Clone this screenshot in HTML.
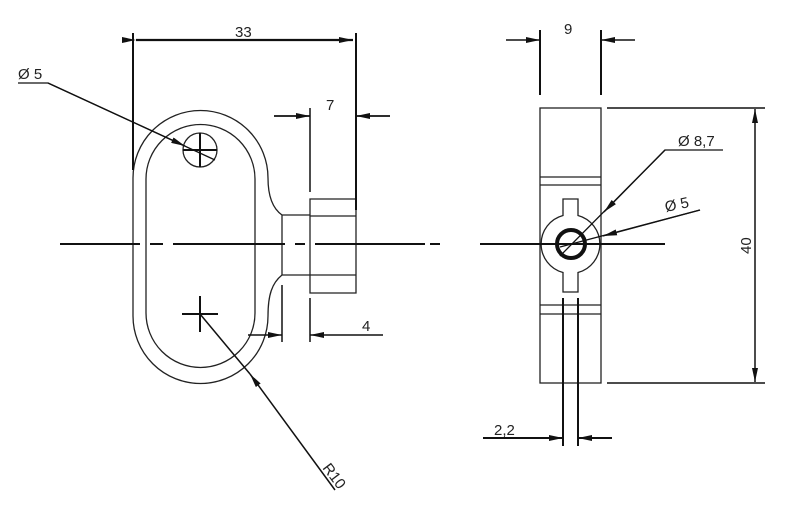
<!DOCTYPE html>
<html><head><style>html,body{margin:0;padding:0;background:#fff}svg{display:block}</style></head><body>
<svg width="792" height="512" viewBox="0 0 792 512" xmlns="http://www.w3.org/2000/svg" font-family="Liberation Sans, sans-serif">
<defs>
<marker id="a" viewBox="0 0 14 6" refX="14" refY="3" markerWidth="14" markerHeight="6" markerUnits="userSpaceOnUse" orient="auto"><path d="M0,0 L14,3 L0,6z" fill="#111"/></marker>
</defs>
<g fill="none" stroke="#222" stroke-width="1.3">
<!-- left view -->
<path d="M282,215 C272,208 268,195 268,178 A67.5,67.5 0 0 0 133,178 L133,316 A67.5,67.5 0 0 0 268,316 C268,295 272,283 282,275"/>
<path d="M146,179 A54.5,54.5 0 0 1 255,179 L255,313 A54.5,54.5 0 0 1 146,313 Z"/>
<circle cx="200" cy="150" r="17"/>
<path d="M282,215 L282,275 M282,215 L310,215 M282,275 L310,275 M310,199 L356,199 L356,293 L310,293 Z M310,216 L356,216 M310,275 L356,275"/>
<!-- right view -->
<rect x="540" y="108" width="61" height="275"/>
<path d="M540,177 L601,177 M540,185 L601,185 M540,305 L601,305 M540,314 L601,314"/>
<path d="M563,215.5 L563,199 L578,199 L578,215.5 A29.5,29.5 0 0 1 578,272.5 L578,292 L563,292 L563,272.5 A29.5,29.5 0 0 1 563,215.5 Z" fill="#fff"/>
</g>
<circle cx="571" cy="244" r="14" fill="none" stroke="#111" stroke-width="4"/>
<g stroke="#111" stroke-width="2" fill="none">
<path d="M60,244 L140,244 M150,244 L163,244 M173,244 L285,244 M295,244 L305,244 M315,244 L425,244 M430,244 L440,244"/>
<path d="M480,244 L665,244"/>
<path d="M183,150 L217,150 M200,133 L200,167 M182,314 L218,314 M200,296 L200,332"/>
<path d="M133,33 L133,170 M356,33 L356,210"/>
<path d="M136,40 L353,40" marker-start="url(#a)" marker-end="url(#a)" stroke-width="2.2"/>
<path d="M310,108 L310,192 M274,116 L310,116 M356,116 L390,116" stroke-width="1.5"/>
<path d="M274,116 L310,116" marker-end="url(#a)" stroke-width="1.5"/>
<path d="M390,116 L356,116" marker-end="url(#a)" stroke-width="1.5"/>
<path d="M282,285 L282,342 M310,298 L310,342" stroke-width="1.5"/>
<path d="M248,335 L282,335" marker-end="url(#a)" stroke-width="1.5"/>
<path d="M383,335 L310,335" marker-end="url(#a)" stroke-width="1.5"/>
<path d="M18,83 L48,83 L215,160" stroke-width="1.3"/>
<path d="M48,83 L185,146" marker-end="url(#a)" stroke-width="1.3"/>
<path d="M335,490 L250,374" marker-end="url(#a)" stroke-width="1.5"/>
<path d="M250,374 L200,314" stroke-width="1.5"/>
<!-- right dims -->
<path d="M540,30 L540,95 M601,30 L601,95" stroke-width="2"/>
<path d="M506,40 L540,40" marker-end="url(#a)" stroke-width="1.5"/>
<path d="M635,40 L601,40" marker-end="url(#a)" stroke-width="1.5"/>
<path d="M607,108 L765,108 M607,383 L765,383" stroke-width="1.5"/>
<path d="M755,245 L755,109" marker-end="url(#a)" stroke-width="1.5"/>
<path d="M755,245 L755,382" marker-end="url(#a)" stroke-width="1.5"/>
<path d="M563,298 L563,446 M578,298 L578,446" stroke-width="2"/>
<path d="M483,438 L563,438" marker-end="url(#a)" stroke-width="2"/>
<path d="M612,438 L578,438" marker-end="url(#a)" stroke-width="2"/>
<path d="M723,150 L665,150 L560,256" stroke-width="1.3"/>
<path d="M665,150 L604,212" marker-end="url(#a)" stroke-width="1.3"/>
<path d="M700,210 L560,247" stroke-width="1.3"/>
<path d="M700,210 L603,236" marker-end="url(#a)" stroke-width="1.3"/>
</g>
<g fill="#222" font-size="15">
<text x="235" y="37">33</text>
<text x="326" y="110">7</text>
<text x="362" y="331">4</text>
<text x="18" y="79">Ø 5</text>
<text x="564" y="34">9</text>
<text x="678" y="146">Ø 8,7</text>
<text x="666" y="212" transform="rotate(-12 666 212)">Ø 5</text>
<text x="494" y="435">2,2</text>
<text x="0" y="0" transform="translate(751,254) rotate(-90)">40</text>
<text x="0" y="0" transform="translate(322,468) rotate(53)">R10</text>
</g>
</svg>
</body></html>
